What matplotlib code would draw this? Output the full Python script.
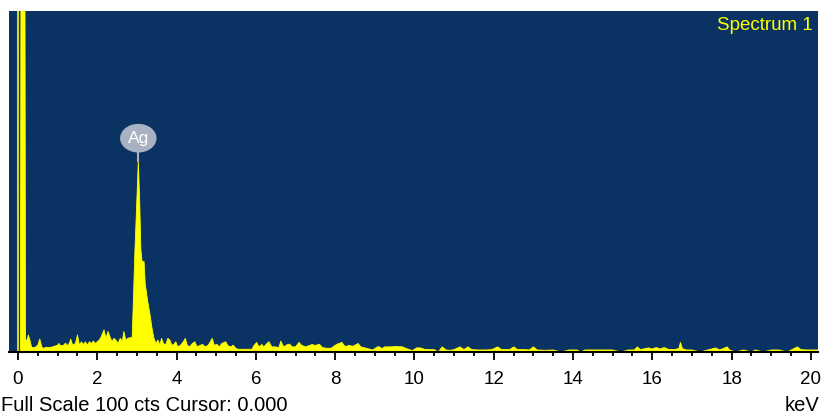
"""EDS spectrum (Spectrum 1) with Ag L-line peak, full scale 100 cts."""

import matplotlib
matplotlib.use("Agg")
import matplotlib.pyplot as plt
from matplotlib.patches import Ellipse

plt.rcParams["font.family"] = ["Liberation Sans", "DejaVu Sans"]

# -----------------------------------------------------------------------
# Spectrum data (energy in keV, counts)
# -----------------------------------------------------------------------
ENERGY = [
    0.00, 0.06, 0.08, 0.17, 0.19, 0.22, 0.26, 0.30, 0.34, 0.38, 0.45, 0.50,
    0.55, 0.60, 0.65, 0.70, 0.80, 0.90, 0.95, 1.00, 1.03, 1.08, 1.15, 1.20,
    1.25, 1.30, 1.33, 1.38, 1.45, 1.50, 1.55, 1.60, 1.65, 1.70, 1.75, 1.80,
    1.85, 1.90, 1.95, 2.00, 2.05, 2.10, 2.17, 2.22, 2.27, 2.32, 2.37, 2.42,
    2.47, 2.52, 2.58, 2.63, 2.67, 2.72, 2.77, 2.82, 2.88, 2.91, 2.95, 2.99,
    3.035, 3.07, 3.10, 3.13, 3.18, 3.21, 3.27, 3.33, 3.38, 3.43, 3.48, 3.53,
    3.58, 3.62, 3.67, 3.72, 3.78, 3.83, 3.88, 3.93, 3.98, 4.03, 4.10, 4.17,
    4.22, 4.27, 4.33, 4.40, 4.46, 4.52, 4.60, 4.66, 4.72, 4.80, 4.90, 4.95,
    5.02, 5.08, 5.14, 5.24, 5.30, 5.37, 5.43, 5.50, 5.57, 5.90, 5.96, 6.02,
    6.08, 6.15, 6.20, 6.28, 6.33, 6.40, 6.50, 6.58, 6.63, 6.70, 6.80, 6.85,
    6.92, 7.00, 7.09, 7.15, 7.25, 7.35, 7.42, 7.50, 7.60, 7.68, 7.78, 7.90,
    7.98, 8.05, 8.17, 8.25, 8.35, 8.45, 8.58, 8.65, 8.75, 8.85, 8.95, 9.05,
    9.10, 9.18, 9.25, 9.40, 9.55, 9.70, 9.80, 9.88, 9.95, 10.05, 10.15, 10.25,
    10.37, 10.50, 10.60, 10.70, 10.80, 10.90, 11.00, 11.15, 11.25, 11.35, 11.45, 11.60,
    11.80, 11.95, 12.10, 12.20, 12.40, 12.51, 12.60, 12.80, 12.90, 13.00, 13.10, 13.30,
    13.50, 13.70, 13.90, 14.10, 14.20, 14.30, 14.50, 14.80, 15.00, 15.20, 15.40, 15.55,
    15.62, 15.70, 15.90, 16.00, 16.10, 16.20, 16.30, 16.40, 16.55, 16.67, 16.71, 16.76,
    16.85, 17.00, 17.20, 17.40, 17.60, 17.70, 17.89, 17.95, 18.10, 18.30, 18.50, 18.60,
    18.80, 19.00, 19.20, 19.40, 19.66, 19.75, 19.90, 20.20,
]
COUNTS = [
    0, 0, 150, 150, 4, 3, 5, 3.5, 1.5, 1.2, 1.5, 2.0,
    3.8, 1.5, 1.0, 1.4, 1.3, 1.6, 1.8, 2.0, 2.5, 1.8, 2.0, 2.6,
    1.8, 2.7, 3.8, 2.0, 2.5, 5.0, 2.0, 3.0, 2.2, 3.0, 2.0, 3.0,
    2.5, 3.2, 2.5, 3.0, 3.5, 4.5, 6.5, 4.0, 6.0, 4.5, 3.0, 4.0,
    3.5, 2.5, 4.0, 3.0, 6.0, 3.5, 4.0, 4.2, 4.2, 15, 30, 42,
    56, 44, 30, 26.5, 26.5, 20, 15, 11, 7, 4, 2.5, 3.5,
    2.0, 4.0, 2.5, 2.0, 4.0, 3.5, 2.0, 2.2, 3.0, 1.5, 2.0, 3.0,
    4.0, 2.0, 1.5, 2.5, 3.0, 1.5, 2.0, 2.2, 1.5, 2.0, 4.0, 2.0,
    2.2, 1.5, 2.5, 3.0, 1.8, 1.5, 2.0, 1.0, 0.8, 0.8, 2.0, 2.8,
    1.5, 2.2, 1.5, 2.5, 3.0, 1.5, 1.5, 1.3, 3.2, 1.5, 2.2, 2.3,
    1.5, 1.5, 2.8, 2.0, 1.5, 1.9, 2.2, 1.9, 2.3, 1.3, 1.1, 1.1,
    1.8, 2.3, 2.8, 1.6, 1.9, 1.7, 2.5, 1.5, 1.2, 0.9, 0.6, 1.4,
    1.6, 1.0, 1.5, 1.5, 1.6, 1.5, 1.0, 0.7, 0.4, 1.2, 1.2, 0.8,
    0.7, 0.7, 0.0, 1.5, 0.6, 0.5, 0.7, 1.5, 0.7, 1.5, 0.7, 0.6,
    0.6, 0.7, 1.5, 0.7, 0.7, 1.5, 0.7, 0.7, 0.6, 1.5, 0.6, 0.5,
    0.6, 0.0, 0.6, 0.6, 0.0, 0.6, 0.6, 0.6, 0.6, 0.0, 0.6, 0.6,
    1.5, 0.7, 1.2, 0.9, 1.3, 0.9, 1.3, 0.8, 0.7, 1.0, 2.8, 1.0,
    0.6, 0.6, 0.0, 0.6, 1.2, 0.6, 1.5, 0.6, 0.0, 0.6, 0.0, 0.6,
    0.0, 0.6, 0.6, 0.0, 1.5, 0.7, 0.6, 0.6,
]

XTICKS = [0, 2, 4, 6, 8, 10, 12, 14, 16, 18, 20]
PEAK_LABEL = "Ag"
PEAK_KEV = 3.035
PEAK_CTS = 56

BG = "#0A3262"
YELLOW = "#FFFF00"

fig = plt.figure(figsize=(8.21, 4.15), dpi=100)
ax = fig.add_axes([9 / 821, 1 - 352 / 415, 809 / 821, 341 / 415])
ax.set_facecolor(BG)

ax.fill_between(ENERGY, COUNTS, 0, color=YELLOW, linewidth=0.6,
                edgecolor=YELLOW)
# cursor line at 0.000 keV
ax.axvline(0.0, color="#D8D820", linewidth=1.5)

ax.set_xlim(-0.227, 20.18)
ax.set_ylim(0, 100)

# element marker
ax.plot([PEAK_KEV, PEAK_KEV], [PEAK_CTS, 59], color="#A8B2C2", linewidth=1.5)
ax.add_patch(Ellipse((PEAK_KEV, 62.7), 0.92, 8.4, facecolor="#A8B2C2",
                     edgecolor="none"))
ax.text(PEAK_KEV, 62.7, PEAK_LABEL, color="white", fontsize=12.5,
        ha="center", va="center")

ax.text(0.993, 0.958, "Spectrum 1", color=YELLOW, fontsize=13.5,
        ha="right", va="center", transform=ax.transAxes)

ax.set_xticks(XTICKS)
ax.set_xticks([v / 2 for v in range(0, 41)], minor=True)
ax.tick_params(axis="x", which="major", direction="out", length=6, width=1.3,
               labelsize=13.5, pad=8, colors="black")
ax.tick_params(axis="x", which="minor", direction="out", length=3, width=1.3)
ax.set_yticks([])
for side in ["left", "right", "top"]:
    ax.spines[side].set_visible(False)
ax.spines["bottom"].set_linewidth(1.5)
ax.spines["bottom"].set_color("black")

fig.text(1 / 821, 1 - 405 / 415, "Full Scale 100 cts Cursor: 0.000",
         fontsize=14.5, ha="left", va="center")
fig.text(819 / 821, 1 - 405 / 415, "keV", fontsize=14.5, ha="right",
         va="center")

fig.savefig("out.png", dpi=100)
